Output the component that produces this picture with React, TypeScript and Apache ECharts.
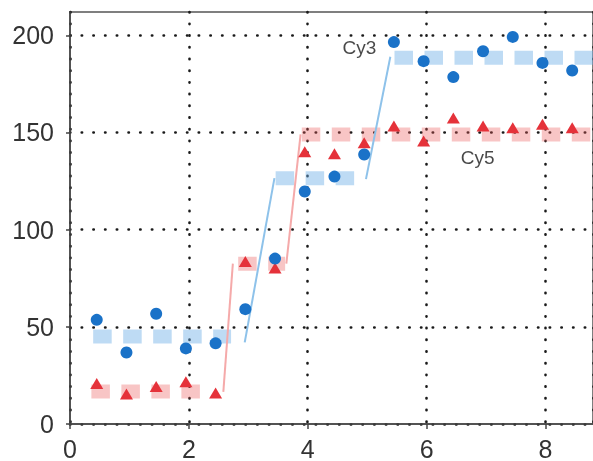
import React, { useEffect, useRef } from "react";
import * as echarts from "echarts";

// Sample positions (shared by both channels)
const sampleX = [0.45, 0.95, 1.45, 1.95, 2.45, 2.95, 3.45, 3.95, 4.45, 4.95, 5.45, 5.95, 6.45, 6.95, 7.45, 7.95, 8.45];
const cy3Values = [53.6, 36.8, 56.7, 38.9, 41.5, 59.1, 85.1, 119.6, 127.3, 138.7, 196.5, 186.7, 178.5, 191.8, 199.2, 185.8, 181.9];
const cy5Values = [20.9, 15.4, 19.3, 21.7, 15.9, 83.6, 80.3, 140.1, 139.1, 144.7, 153.3, 145.6, 157.5, 153.3, 152.5, 154.2, 152.5];

// Step fit: plateaus (thick dashed) and ramps (thin)
const cy3PlateauStart = [0.39, 3.46, 5.46];
const cy3PlateauEnd = [2.71, 4.8, 8.8];
const cy3PlateauLevel = [45, 126.5, 188.5];
const cy3RampX = [[2.94, 3.44], [4.98, 5.39]];
const cy3RampY = [[42, 126.5], [126, 189]];

const cy5PlateauStart = [0.36, 2.83, 3.9];
const cy5PlateauEnd = [2.22, 3.62, 8.8];
const cy5PlateauLevel = [16.7, 82.5, 149];
const cy5RampX = [[2.58, 2.74], [3.64, 3.88]];
const cy5RampY = [[16.5, 82.5], [82.5, 149]];

const tickYValues = [0, 50, 100, 150, 200];
const labelNames = ["Cy3", "Cy5"];
const labelX = [4.87, 6.86];
const labelY = [193.8, 137.3];

const FONT = "'Liberation Sans', Arial, Helvetica, sans-serif";

export default function App() {
  const ref = useRef<HTMLDivElement>(null);
  useEffect(() => {
    if (!ref.current) return;
    const chart = echarts.init(ref.current, null, { renderer: "svg" });

    const plateau = (starts: number[], ends: number[], levels: number[], color: string) =>
      starts.map((s, i) => ({
        type: "line",
        data: [[s, levels[i]], [ends[i], levels[i]]],
        showSymbol: false,
        symbol: "none",
        silent: true,
        z: 2,
        lineStyle: { color, width: 14, type: [18.5, 11.5], cap: "butt" },
      }));
    const ramps = (xs: number[][], ys: number[][], color: string) =>
      xs.map((xr, i) => ({
        type: "line",
        data: [[xr[0], ys[i][0]], [xr[1], ys[i][1]]],
        showSymbol: false,
        symbol: "none",
        silent: true,
        z: 2,
        lineStyle: { color, width: 2 },
      }));

    const axisLine = { show: true, lineStyle: { color: "#444", width: 1.5 } };
    const splitLine = {
      show: true,
      lineStyle: { color: "#1a1a1a", width: 2.6, type: [0.4, 11.3], cap: "round" },
    };

    chart.setOption({
      animation: false,
      grid: {
        left: 70,
        right: -6,
        top: 12,
        bottom: 36,
        show: true,
        borderColor: "#555",
        borderWidth: 1.5,
        backgroundColor: "transparent",
      },
      xAxis: {
        type: "value",
        min: 0,
        max: 8.8,
        interval: 2,
        axisLine,
        axisTick: { show: true, length: 5, inside: false, lineStyle: { color: "#444", width: 1.5 } },
        axisLabel: { fontSize: 25, color: "#333", fontFamily: FONT, margin: 12, showMaxLabel: false },
        splitLine,
      },
      yAxis: {
        type: "value",
        min: 0,
        max: 212,
        interval: 50,
        axisLine,
        axisTick: { show: true, length: 4, inside: false, customValues: tickYValues, lineStyle: { color: "#444", width: 1.5 } },
        axisLabel: { fontSize: 25, color: "#333", fontFamily: FONT, margin: 16, customValues: tickYValues },
        splitLine,
      },
      series: [
        ...plateau(cy3PlateauStart, cy3PlateauEnd, cy3PlateauLevel, "rgba(110,175,230,0.45)"),
        ...plateau(cy5PlateauStart, cy5PlateauEnd, cy5PlateauLevel, "rgba(235,90,90,0.35)"),
        ...ramps(cy3RampX, cy3RampY, "#8ec2ea"),
        ...ramps(cy5RampX, cy5RampY, "#f5aaaa"),
        {
          type: "scatter",
          name: "Cy5",
          symbol: "triangle",
          symbolSize: [13, 11],
          z: 3,
          itemStyle: { color: "#e5323a", opacity: 1 },
          data: sampleX.map((x, i) => [x, cy5Values[i]]),
        },
        {
          type: "scatter",
          name: "Cy3",
          symbol: "circle",
          symbolSize: 12,
          z: 4,
          itemStyle: { color: "#1a72c8", opacity: 1 },
          data: sampleX.map((x, i) => [x, cy3Values[i]]),
        },
        {
          type: "scatter",
          symbolSize: 1,
          z: 5,
          silent: true,
          itemStyle: { color: "rgba(0,0,0,0)" },
          label: {
            show: true,
            position: "inside",
            formatter: (p: any) => p.data[2],
            fontSize: 19,
            color: "#1a1a1a",
            textBorderWidth: 0,
            fontFamily: FONT,
          },
          data: labelNames.map((n, i) => [labelX[i], labelY[i], n]),
        },
      ],
    });
    return () => chart.dispose();
  }, []);
  return <div ref={ref} style={{ width: 593, height: 461, position: "fixed", left: 0, top: 0 }} />;
}
